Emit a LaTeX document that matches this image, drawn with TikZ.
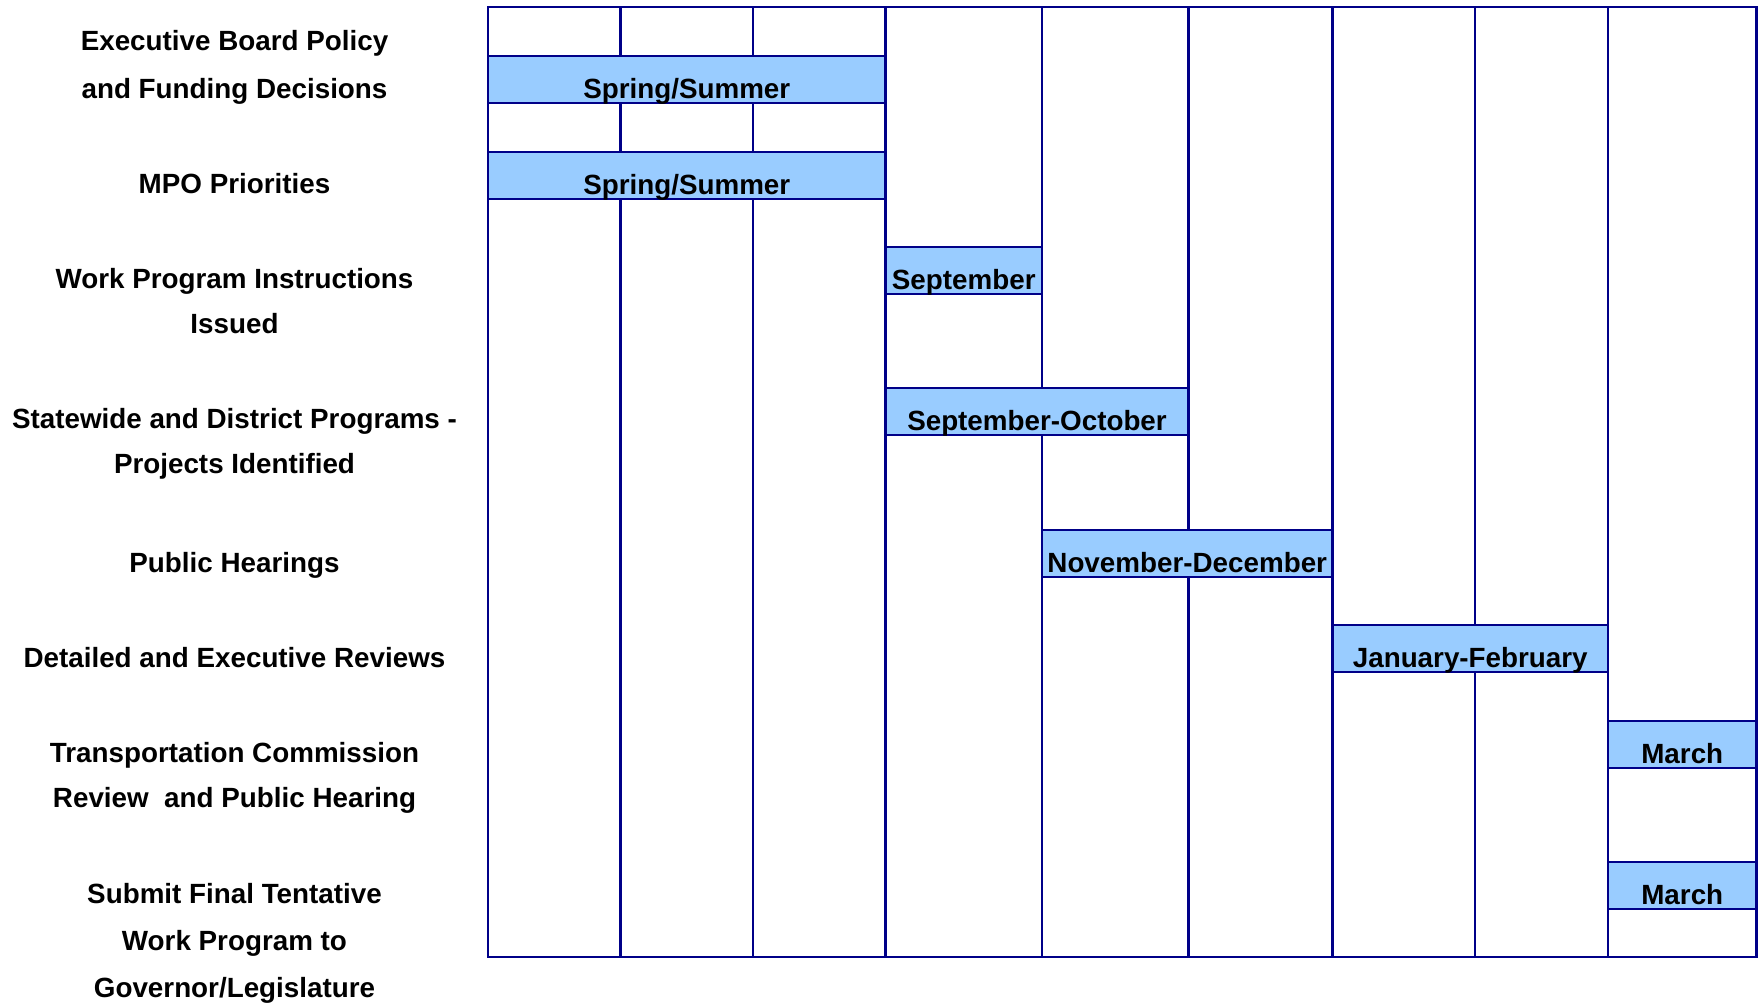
\documentclass[tikz,border=0pt]{standalone}
\usepackage{fontspec}
\setmainfont{Liberation Sans}
\definecolor{gridblue}{HTML}{000088}
\definecolor{barblue}{HTML}{99CCFF}
\begin{document}
\begin{tikzpicture}[x=0.5pt,y=-0.5pt,
  gridline/.style={draw=gridblue, line width=1.4pt},
  ganttbar/.style={gridline, fill=barblue, rectangle, inner sep=0pt, outer sep=0pt, anchor=north west,
    minimum height=23.5pt, text height=21pt, text depth=2.5pt,
    font=\bfseries\fontsize{13.9}{16}\selectfont},
  rowlabel/.style={align=center, anchor=base, inner sep=0pt,
    font=\bfseries\fontsize{13.9}{22.5}\selectfont}]
\useasboundingbox (0,0) rectangle (1759,1002);
% grid
\draw[gridline] (488,7) rectangle (1756.5,957);
\foreach \cx in {620.5,753}{
  \draw[gridline] (\cx,7) -- (\cx,56);
  \draw[gridline] (\cx,103) -- (\cx,152);
  \draw[gridline] (\cx,199) -- (\cx,957);
}
\draw[gridline] (885.5,7) -- (885.5,957);
\draw[gridline] (1042,7) -- (1042,388) (1042,436) -- (1042,957);
\draw[gridline] (1188.5,7) -- (1188.5,530) (1188.5,577) -- (1188.5,957);
\draw[gridline] (1332.5,7) -- (1332.5,957);
\draw[gridline] (1475,7) -- (1475,625) (1475,672) -- (1475,957);
\draw[gridline] (1608,7) -- (1608,957);
% bars
\node[ganttbar, minimum width=198.75pt] (b1) at (488,56) {Spring/Summer};
\node[ganttbar, minimum width=198.75pt] (b2) at (488,152) {Spring/Summer};
\node[ganttbar, minimum width=78.25pt] (b3) at (885.5,247) {September};
\node[ganttbar, minimum width=151.5pt] (b4) at (885.5,388) {September-October};
\node[ganttbar, minimum width=145.25pt] (b5) at (1042,530) {November-December};
\node[ganttbar, minimum width=137.75pt] (b6) at (1332.5,625) {January-February};
\node[ganttbar, minimum width=74.25pt] (b7) at (1608,721) {March};
\node[ganttbar, minimum width=74.25pt] (b8) at (1608,862) {March};
% row labels (anchor base = last line's baseline)
\node[rowlabel, font=\bfseries\fontsize{13.9}{24}\selectfont] (l1) at (234.5,98) {Executive Board Policy\\and Funding Decisions};
\node[rowlabel] (l2) at (234.5,193) {MPO Priorities};
\node[rowlabel] (l3) at (234.5,333) {Work Program Instructions\\Issued};
\node[rowlabel] (l4) at (234.5,473) {Statewide and District Programs -\\Projects Identified};
\node[rowlabel] (l5) at (234.5,572) {Public Hearings};
\node[rowlabel] (l6) at (234.5,667) {Detailed and Executive Reviews};
\node[rowlabel] (l7) at (234.5,807) {Transportation Commission\\Review~ and Public Hearing};
\node[rowlabel, font=\bfseries\fontsize{13.9}{23.5}\selectfont] (l8) at (234.5,997) {Submit Final Tentative\\Work Program to\\Governor/Legislature};
\end{tikzpicture}
\end{document}
